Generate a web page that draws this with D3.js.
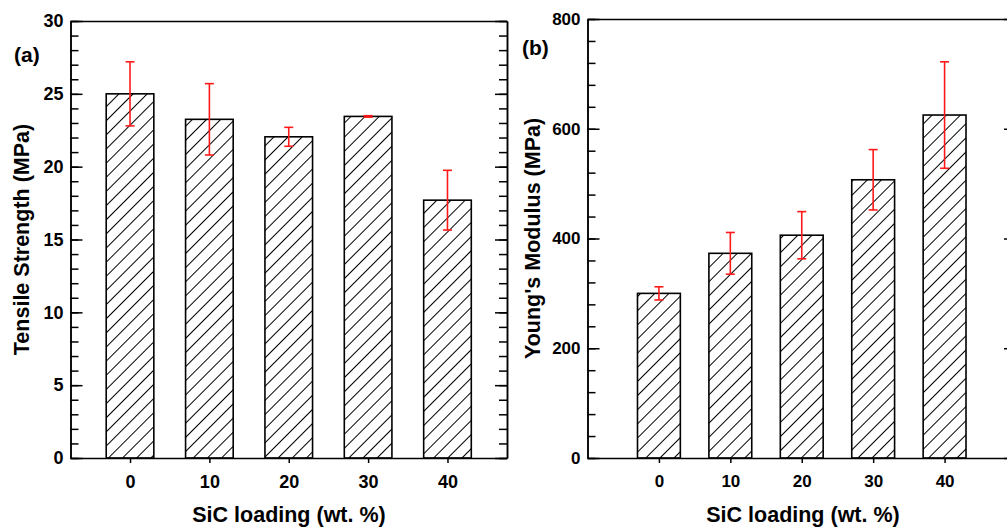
<!DOCTYPE html>
<html>
<head>
<meta charset="utf-8">
<script src="https://cdn.jsdelivr.net/npm/d3@7"></script>
<style>
  body { margin: 0; background: #fff; }
  svg { display: block; font-family: "Liberation Sans", Arial, sans-serif; }
  .axis path, .axis line { stroke: #000; stroke-width: 1.5; }
  .axis text { font-weight: bold; fill: #000; }
</style>
</head>
<body>
<div id="chart"></div>
<script>
// SiC loading (wt. %) on the x axis of both panels
const loading = [0, 10, 20, 30, 40];

// (a) tensile strength, MPa
const tensile = [25.0, 23.25, 22.05, 23.45, 17.7];
const tensileErr = [2.2, 2.45, 0.65, 0.05, 2.05];
const tensileTicks = [0, 5, 10, 15, 20, 25, 30];

// (b) Young's modulus, MPa
const modulus = [300, 373, 406, 507, 625];
const modulusErr = [12, 38, 43, 55, 97];
const modulusTicks = [0, 200, 400, 600, 800];

const width = 1007, height = 530;

const svg = d3.select("#chart").append("svg")
  .attr("width", width)
  .attr("height", height);

// hatch fill shared by all bars
svg.append("defs").append("pattern")
  .attr("id", "hatch")
  .attr("patternUnits", "userSpaceOnUse")
  .attr("width", 10)
  .attr("height", 10)
  .attr("patternTransform", "rotate(45)")
  .append("line")
  .attr("x1", 0).attr("y1", 0)
  .attr("x2", 0).attr("y2", 10)
  .attr("stroke", "#000")
  .attr("stroke-width", 2);

function drawPanel(opt) {
  const x = d3.scaleLinear().domain(opt.xDomain).range([opt.left, opt.right]);
  const y = d3.scaleLinear().domain(opt.yDomain).range([opt.bottom, opt.top]);
  const g = svg.append("g");

  const step = x(10) - x(0);
  const bw = step * 0.6;

  // bars
  g.selectAll("rect.bar")
    .data(opt.values)
    .join("rect")
    .attr("class", "bar")
    .attr("x", (d, i) => x(loading[i]) - bw / 2)
    .attr("y", d => y(d))
    .attr("width", bw)
    .attr("height", d => y(0) - y(d))
    .attr("fill", "url(#hatch)")
    .attr("stroke", "#000")
    .attr("stroke-width", 1.6);

  // error bars
  const eb = g.selectAll("g.err")
    .data(opt.values.map((v, i) => ({ x: loading[i], v, e: opt.errors[i] })))
    .join("g")
    .attr("class", "err")
    .attr("stroke", "#ff1a1a")
    .attr("stroke-width", 1.6);
  eb.append("line")
    .attr("x1", d => x(d.x)).attr("x2", d => x(d.x))
    .attr("y1", d => y(d.v - d.e)).attr("y2", d => y(d.v + d.e));
  [-1, 1].forEach(s => {
    eb.append("line")
      .attr("x1", d => x(d.x) - 4.5).attr("x2", d => x(d.x) + 4.5)
      .attr("y1", d => y(d.v + s * d.e)).attr("y2", d => y(d.v + s * d.e));
  });

  // left axis, ticks pointing inward
  const minor = d3.range(opt.yDomain[0], opt.yDomain[1] + 1e-9, opt.minorStep);
  g.append("g")
    .attr("class", "axis")
    .attr("transform", `translate(${opt.left},0)`)
    .call(d3.axisLeft(y).tickValues(minor).tickSize(-8).tickFormat("").tickSizeOuter(0));
  g.append("g")
    .attr("class", "axis")
    .attr("transform", `translate(${opt.left},0)`)
    .call(d3.axisLeft(y).tickValues(opt.ticks).tickSize(-12).tickPadding(7).tickSizeOuter(0))
    .selectAll("text")
    .style("font-size", opt.tickFont + "px");

  // right axis (frame)
  g.append("g")
    .attr("class", "axis")
    .attr("transform", `translate(${opt.right},0)`)
    .call(d3.axisRight(y).tickValues(minor).tickSize(-8).tickFormat("").tickSizeOuter(0));
  g.append("g")
    .attr("class", "axis")
    .attr("transform", `translate(${opt.right},0)`)
    .call(d3.axisRight(y).tickValues(opt.ticks).tickSize(-12).tickFormat("").tickSizeOuter(0));

  // bottom axis
  g.append("g")
    .attr("class", "axis")
    .attr("transform", `translate(0,${opt.bottom})`)
    .call(d3.axisBottom(x).tickValues(loading).tickSize(5).tickPadding(12).tickSizeOuter(0))
    .selectAll("text")
    .style("font-size", opt.tickFont + "px");

  // top frame
  g.append("g")
    .attr("class", "axis")
    .attr("transform", `translate(0,${opt.top})`)
    .call(d3.axisTop(x).tickValues([]).tickSizeOuter(0));

  // titles
  g.append("text")
    .attr("transform", `translate(${opt.yTitleX},${(opt.top + opt.bottom) / 2}) rotate(-90)`)
    .attr("text-anchor", "middle")
    .attr("font-weight", "bold")
    .attr("font-size", 21.5)
    .text(opt.yTitle);

  g.append("text")
    .attr("x", opt.xTitleX)
    .attr("y", 522)
    .attr("text-anchor", "middle")
    .attr("font-weight", "bold")
    .attr("font-size", 21.5)
    .text("SiC loading (wt. %)");

  g.append("text")
    .attr("x", opt.labelX)
    .attr("y", opt.labelY)
    .attr("font-weight", "bold")
    .attr("font-size", 21)
    .text(opt.label);
}

drawPanel({
  values: tensile, errors: tensileErr, ticks: tensileTicks,
  xDomain: [-7.5, 47.5], yDomain: [0, 30], minorStep: 1,
  left: 70.5, right: 507, top: 21, bottom: 458,
  tickFont: 18,
  yTitle: "Tensile Strength (MPa)", yTitleX: 29,
  xTitleX: 289, label: "(a)", labelX: 14, labelY: 62
});

drawPanel({
  values: modulus, errors: modulusErr, ticks: modulusTicks,
  xDomain: [-10, 50], yDomain: [0, 800], minorStep: 40,
  left: 587.5, right: 1016, top: 19, bottom: 458,
  tickFont: 17,
  yTitle: "Young's Modulus (MPa)", yTitleX: 540,
  xTitleX: 803, label: "(b)", labelX: 522, labelY: 55
});
</script>
</body>
</html>
